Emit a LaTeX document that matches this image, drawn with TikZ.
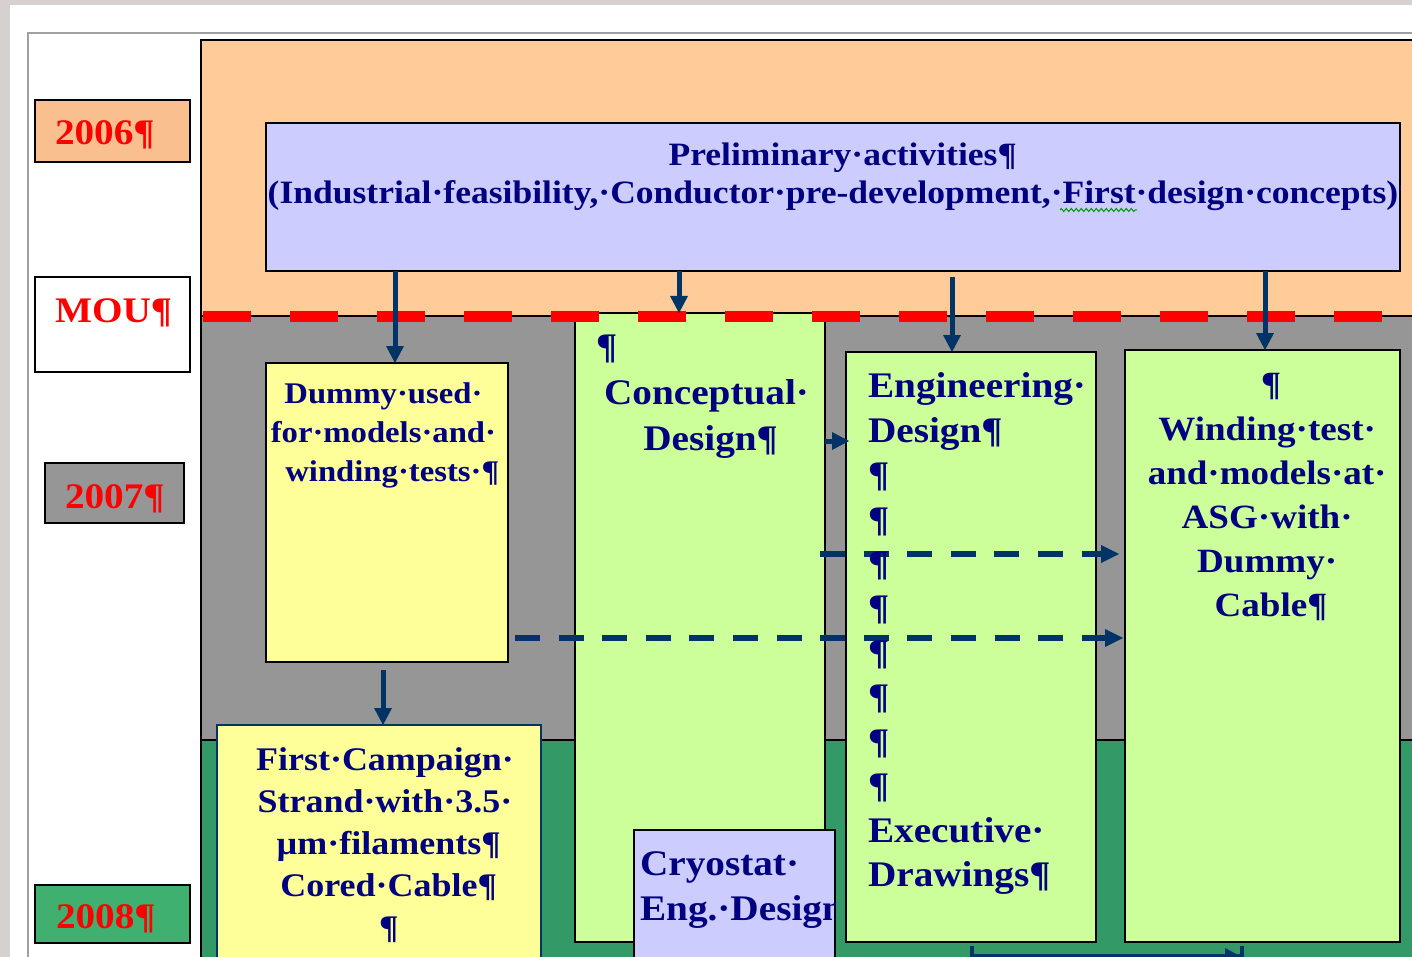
\documentclass[tikz,border=0pt]{standalone}
\usepackage{fontspec}
\setmainfont{Liberation Serif}[FakeStretch=1.09]
\usetikzlibrary{arrows.meta,decorations.pathmorphing,calc}
\definecolor{bgc}{RGB}{214,208,208}
\definecolor{framec}{RGB}{160,160,160}
\definecolor{peach}{RGB}{255,204,153}
\definecolor{peachb}{RGB}{250,191,143}
\definecolor{midgray}{RGB}{150,150,150}
\definecolor{dgreen}{RGB}{51,153,102}
\definecolor{mgreen}{RGB}{64,176,112}
\definecolor{lav}{RGB}{204,204,255}
\definecolor{lyel}{RGB}{255,255,153}
\definecolor{lgreen}{RGB}{204,255,153}
\definecolor{anavy}{RGB}{0,51,102}
\definecolor{tnavy}{RGB}{0,0,128}
\begin{document}
\begin{tikzpicture}[x=1pt,y=-1pt,
  reg/.style={draw=black,line width=1.5pt,anchor=north west,inner sep=0pt,outer sep=0pt},
  yrbox/.style={reg,line width=2pt},
  arr/.style={draw=anavy,line width=5pt,-{Triangle[length=17pt,width=18pt,line width=0pt]}},
  darr/.style={draw=anavy,line width=6pt,dash pattern=on 25pt off 18.6pt,-{Triangle[length=18pt,width=18pt,line width=0pt]}},
  redline/.style={draw=red,line width=11pt,dash pattern=on 48pt off 39pt},
  txt/.style={text=tnavy,inner sep=0pt,outer sep=0pt},
  yrtxt/.style={text=red,inner sep=0pt,outer sep=0pt,anchor=base west,font=\fontsize{36}{40}\selectfont\bfseries},
]
\useasboundingbox (0,0) rectangle (1412,957);
\clip (0,0) rectangle (1412,957);
% screen background and page
\fill[bgc] (0,0) rectangle (1412,957);
\fill[white] (10,5) rectangle (1412,957);
\coordinate (fa) at (28,957);
\coordinate (fb) at (28,33);
\coordinate (fc) at (1412,33);
\draw[framec,line width=1.5pt] (fa) -- (fb) -- (fc);
% period regions
\node[reg,fill=peach,minimum width=1250pt,minimum height=276pt] (r2006) at (201,40) {};
\node[reg,fill=midgray,minimum width=1250pt,minimum height=424pt] (r2007) at (201,316) {};
\node[reg,fill=dgreen,minimum width=1250pt,minimum height=260pt] (r2008) at (201,740) {};
% year labels
\node[yrbox,fill=peachb,minimum width=155pt,minimum height=62pt] (b2006) at (35,100) {};
\node[yrbox,fill=white,minimum width=155pt,minimum height=95pt] (bmou) at (35,277) {};
\node[yrbox,fill=midgray,minimum width=139pt,minimum height=60pt] (b2007) at (45,463) {};
\node[yrbox,fill=mgreen,minimum width=155pt,minimum height=58pt] (b2008) at (35,885) {};
% activity boxes
\node[reg,fill=lav,minimum width=1134pt,minimum height=148pt] (prelim) at (266,123) {};
\node[reg,fill=lyel,minimum width=242pt,minimum height=299pt] (dummy) at (266,363) {};
\node[reg,draw=anavy,fill=lyel,minimum width=324pt,minimum height=260pt] (first) at (217,725) {};
\node[reg,fill=lgreen,minimum width=250pt,minimum height=629pt] (concept) at (575,313) {};
\node[reg,fill=lgreen,minimum width=250pt,minimum height=590pt] (eng) at (846,352) {};
\node[reg,fill=lgreen,minimum width=275pt,minimum height=592pt] (wind) at (1125,350) {};
\node[reg,fill=lav,minimum width=201pt,minimum height=150pt] (cryo) at (634,830) {};
% MOU line
\coordinate (rl1) at (203,316);
\coordinate (rl2) at (1385,316);
\draw[redline] (rl1) -- (rl2);
% arrows
\coordinate (ax1) at (395,0);
\coordinate (ax2) at (679,0);
\coordinate (ax3) at (952,0);
\coordinate (ax4) at (1265,0);
\coordinate (ax5) at (383,0);
\coordinate (ay1) at (0,441);
\coordinate (ay2) at (0,554);
\coordinate (ay3) at (0,638);
\draw[arr] (prelim.south -| ax1) -- (dummy.north -| ax1);
\draw[arr] (prelim.south -| ax2) -- (concept.north -| ax2);
\draw[arr] ($(prelim.south -| ax3)+(0,6)$) -- (eng.north -| ax3);
\draw[arr] (prelim.south -| ax4) -- (wind.north -| ax4);
\draw[arr] ($(dummy.south -| ax5)+(0,8)$) -- (first.north -| ax5);
\draw[arr] (concept.east |- ay1) -- ($(eng.west |- ay1)+(3,0)$);
\draw[darr,shorten >=6pt] ($(concept.east |- ay2)+(-5,0)$) -- (wind.west |- ay2);
\draw[darr,shorten >=2pt] ($(dummy.east |- ay3)+(7,0)$) -- (wind.west |- ay3);
\coordinate (bl) at (970,956);
\coordinate (br) at (1244,956);
\draw[draw=anavy,line width=4pt,{Bar[width=20pt,line width=4pt]}-{Triangle[length=15pt,width=16pt,line width=0pt]Bar[width=20pt,line width=4pt]}] (bl) -- (br);
% year texts
\node[yrtxt] (t2006) at (55,145) {2006¶};
\node[yrtxt] (tmou) at (55,322) {MOU¶};
\node[yrtxt] (t2007) at (65,508) {2007¶};
\node[yrtxt] (t2008) at (56,928) {2008¶};
% box texts
\begin{scope}
\clip (prelim.north west) rectangle (prelim.south east);
\node[txt,anchor=north,align=center,font=\fontsize{32.6}{38.3}\selectfont\bfseries] (tprelim) at (833,138.2)
 {\strut Preliminary·activities\rlap{¶}\\(Industrial·feasibility,·Conductor·pre-development,·First·design·concepts)\rlap{¶}};
\end{scope}
\coordinate (sq1) at (1060,210);
\coordinate (sq2) at (1137,210);
\draw[draw=green!60!black,line width=1pt,decorate,decoration={zigzag,segment length=5pt,amplitude=1.5pt}] (sq1) -- (sq2);
\node[txt,anchor=north,align=center,font=\fontsize{30}{39}\selectfont\bfseries] (tdummy) at (378,375.7)
 {\strut Dummy·used\rlap{·}\\for·models·and\rlap{·}\\winding·tests\rlap{·¶}};
\node[txt,anchor=north,align=center,font=\fontsize{33}{42}\selectfont\bfseries] (tfirst) at (379,740.6)
 {\strut First·Campaign\rlap{·}\\Strand·with·3.5\rlap{·}\\µm·filaments\rlap{¶}\\Cored·Cable\rlap{¶}\\\rlap{¶}};
\node[txt,anchor=base west,font=\fontsize{36}{46}\selectfont\bfseries] (tcpil) at (596,358) {¶};
\node[txt,anchor=north,align=center,font=\fontsize{36}{46}\selectfont\bfseries] (tconcept) at (700,371.8)
 {\strut Conceptual\rlap{·}\\Design\rlap{¶}};
\node[txt,anchor=north west,align=left,font=\fontsize{36}{44.45}\selectfont\bfseries] (teng) at (868,366.6)
 {\strut Engineering·\\Design¶\\¶\\¶\\¶\\¶\\¶\\¶\\¶\\¶\\Executive·\\Drawings¶};
\node[txt,anchor=north,align=center,font=\fontsize{34}{44.2}\selectfont\bfseries] (twind) at (1261,364.9)
 {\strut\rlap{¶}\\Winding·test\rlap{·}\\and·models·at\rlap{·}\\ASG·with\rlap{·}\\Dummy\rlap{·}\\Cable\rlap{¶}};
\begin{scope}
\clip (cryo.north west) rectangle (cryo.south east);
\node[txt,anchor=north west,align=left,font=\fontsize{36}{45}\selectfont\bfseries] (tcryo) at (640,843.5)
 {\strut Cryostat·\\Eng.·Design};
\end{scope}
\end{tikzpicture}
\end{document}
